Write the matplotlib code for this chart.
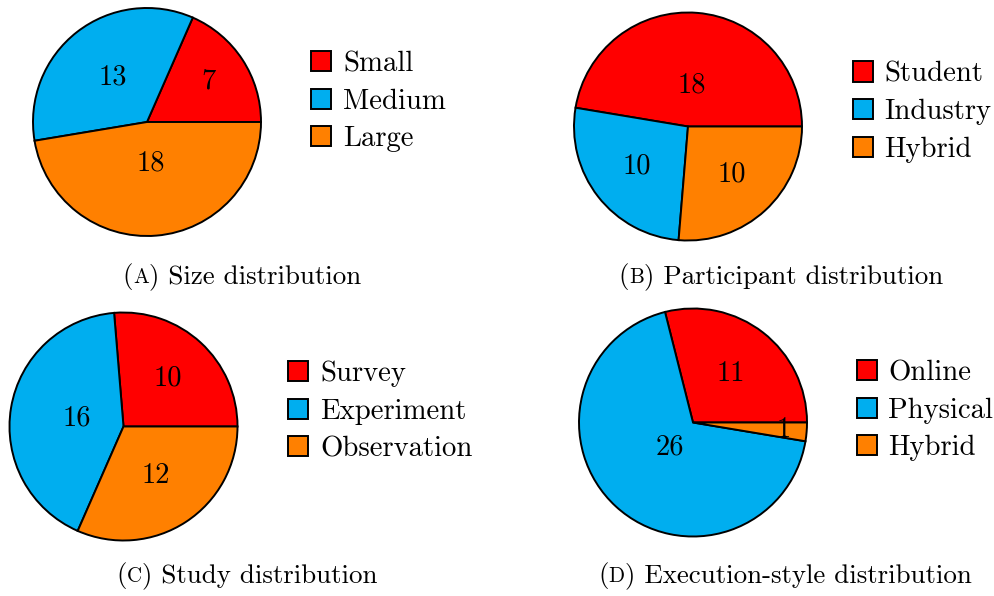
import matplotlib
matplotlib.use("Agg")
import numpy as np
import matplotlib.pyplot as plt

plt.rcParams['font.family'] = 'cmr10'
plt.rcParams['mathtext.fontset'] = 'cm'
plt.rcParams['axes.unicode_minus'] = False

# ---- data -------------------------------------------------------------
size_labels = ['Small', 'Medium', 'Large']
size_counts = [7, 13, 18]

participant_labels = ['Student', 'Industry', 'Hybrid']
participant_counts = [18, 10, 10]

study_labels = ['Survey', 'Experiment', 'Observation']
study_counts = [10, 16, 12]

execution_labels = ['Online', 'Physical', 'Hybrid']
execution_counts = [11, 26, 1]

caption_tags = ['A', 'B', 'C', 'D']
caption_texts = ['Size distribution', 'Participant distribution',
                 'Study distribution', 'Execution-style distribution']

# ---- style --------------------------------------------------------------
COLORS = ['#FF0000', '#00AEEF', '#FF8000']
W, H = 995, 596
FS_NUM = 20.5           # slice numbers (pt)
FS_LEG = 20.7           # legend entries (pt)
FS_CAP = 19.4           # sub-captions (pt)
LEG_PX = FS_LEG * 100 / 72
EDGE_LW = 1.4

fig = plt.figure(figsize=(W / 100, H / 100), dpi=100)
fig.patch.set_facecolor('white')


def label_radius(span):
    """Inner label position along the radius, depending on slice angle."""
    return 0.8 + max(min(-(span - 10) / 110 * 0.3, 0.0), -0.5)


def pie_panel(cx, cy, r, counts, labels, leg_x, leg_y):
    pad = 6
    ax = fig.add_axes([(cx - r - pad) / W, 1 - (cy + r + pad) / H,
                       2 * (r + pad) / W, 2 * (r + pad) / H])
    wedges, _ = ax.pie(counts, colors=COLORS, startangle=0, counterclock=True,
                       radius=1.0,
                       wedgeprops=dict(edgecolor='black', linewidth=EDGE_LW,
                                       joinstyle='miter'))
    lim = (r + pad) / r
    ax.set_xlim(-lim, lim)
    ax.set_ylim(-lim, lim)
    ax.set_aspect('equal')
    ax.axis('off')
    for w, c in zip(wedges, counts):
        span = w.theta2 - w.theta1
        mid = np.deg2rad((w.theta1 + w.theta2) / 2)
        k = label_radius(span)
        ax.text(k * np.cos(mid), k * np.sin(mid), str(c), ha='center',
                va='center', fontsize=FS_NUM)
    ax.legend(wedges, labels, loc='center left',
              bbox_to_anchor=(leg_x / W, 1 - leg_y / H),
              bbox_transform=fig.transFigure, frameon=False,
              borderpad=0, borderaxespad=0, fontsize=FS_LEG,
              handlelength=20 / LEG_PX, handleheight=0.70,
              handletextpad=0.40, labelspacing=0.39)
    return ax


pie_panel(147, 122, 114, size_counts, size_labels, 311.5, 101.5)
pie_panel(688, 126.5, 114, participant_counts, participant_labels, 853, 112)
pie_panel(123.5, 426.5, 114, study_counts, study_labels, 288.5, 411.5)
pie_panel(693, 422.5, 114, execution_counts, execution_labels, 857, 410.5)


# ---- sub-captions: "(X) text" with a small-capital letter ---------------
renderer = fig.canvas.get_renderer()


def caption(cx, base_y, tag, text):
    parts = [('(', FS_CAP), (tag, FS_CAP * 0.78), (') ' + text, FS_CAP)]
    items = []
    x = 0.0
    for s, fs in parts:
        t = fig.text(0, 1 - base_y / H, s, fontsize=fs, ha='left',
                     va='baseline')
        wpx = t.get_window_extent(renderer).width
        items.append((t, x))
        x += wpx
    x0 = cx - x / 2
    for t, off in items:
        t.set_x((x0 + off) / W)


caption(242, 283, caption_tags[0], caption_texts[0])
caption(781, 283, caption_tags[1], caption_texts[1])
caption(247, 582, caption_tags[2], caption_texts[2])
caption(785, 582, caption_tags[3], caption_texts[3])

fig.savefig('out.png', dpi=100, facecolor='white')
